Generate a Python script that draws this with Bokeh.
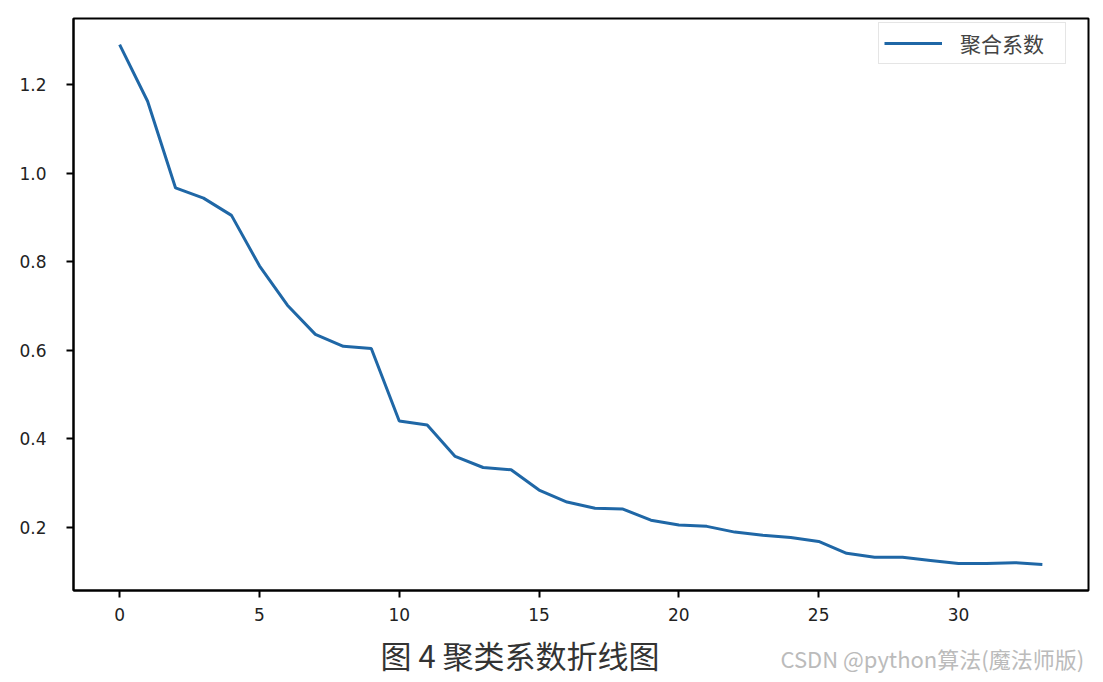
from bokeh.plotting import figure
from bokeh.models import Range1d, Label, FixedTicker, Legend, LegendItem
from bokeh.layouts import column
from bokeh.embed import file_html
from bokeh.resources import INLINE

x_vals = list(range(34))
coef = [1.291, 1.163, 0.967, 0.944, 0.905, 0.791, 0.702, 0.636, 0.609, 0.604,
        0.440, 0.431, 0.360, 0.335, 0.330, 0.284, 0.257, 0.243, 0.241, 0.216,
        0.205, 0.202, 0.189, 0.182, 0.177, 0.168, 0.141, 0.132, 0.132, 0.125,
        0.118, 0.118, 0.120, 0.116]
series_name = "聚合系数"
x_ticks = [0, 5, 10, 15, 20, 25, 30]
y_ticks = [0.2, 0.4, 0.6, 0.8, 1.0, 1.2]
caption = "图 4  聚类系数折线图"
watermark = "CSDN @python算法(魔法师版)"

W = 1095
BL, BR = 73, 7
p = figure(width=W, height=632, output_backend="svg", toolbar_location=None,
           x_range=Range1d(-1.65, 34.65), y_range=Range1d(0.057, 1.35),
           min_border_left=BL, min_border_right=BR, min_border_top=18,
           min_border_bottom=42)
p.background_fill_color = "white"
p.border_fill_color = "white"
p.outline_line_color = "black"
p.outline_line_width = 2
p.xgrid.visible = False
p.ygrid.visible = False

for ax in (p.xaxis[0], p.yaxis[0]):
    ax.axis_line_color = "black"
    ax.axis_line_width = 2
    ax.major_tick_line_color = "black"
    ax.major_tick_line_width = 2
    ax.major_tick_out = 7
    ax.major_tick_in = 0
    ax.minor_tick_line_color = None
    ax.major_label_text_font = "DejaVu Sans"
    ax.major_label_text_font_size = "17px"
    ax.major_label_text_color = "#222222"
p.xaxis[0].ticker = FixedTicker(ticks=x_ticks)
p.yaxis[0].ticker = FixedTicker(ticks=y_ticks)
p.yaxis[0].major_label_overrides = {t: f"{t:.1f}" for t in y_ticks}
p.xaxis[0].major_label_standoff = 10
p.yaxis[0].major_label_standoff = 20

r = p.line(x_vals, coef, line_color="#1f67a6", line_width=3)

legend = Legend(items=[LegendItem(label=series_name, renderers=[r])],
                location=(805, 526))
legend.label_text_font = "Noto Sans CJK SC"
legend.label_text_font_size = "21px"
legend.glyph_width = 58
legend.label_standoff = 18
legend.label_width = 100
legend.border_line_color = "#cccccc"
legend.border_line_width = 1.5
legend.margin = 0
legend.padding = 5
legend.spacing = 0
legend.background_fill_alpha = 1
p.add_layout(legend)

# caption strip below the chart (x coordinates = page pixels)
c = figure(width=W, height=48, output_backend="svg", toolbar_location=None,
           x_range=Range1d(BL, W - BR), y_range=Range1d(0, 48),
           x_axis_location=None, y_axis_location=None,
           min_border_left=BL, min_border_right=BR,
           min_border_top=0, min_border_bottom=0)
c.xgrid.visible = False
c.ygrid.visible = False
c.outline_line_color = None
c.background_fill_color = "white"
c.border_fill_color = "white"
c.add_layout(Label(x=380, y=4, text=caption, text_baseline="bottom",
                   text_font="Noto Sans CJK SC", text_font_size="31px",
                   text_color="#333333"))
c.add_layout(Label(x=780, y=7, text=watermark, text_baseline="bottom",
                   text_font="Noto Sans CJK SC", text_font_size="22px",
                   text_color="#bbbbbb"))

layout = column(p, c, spacing=0)
open("out.html", "w").write(file_html(layout, INLINE))
